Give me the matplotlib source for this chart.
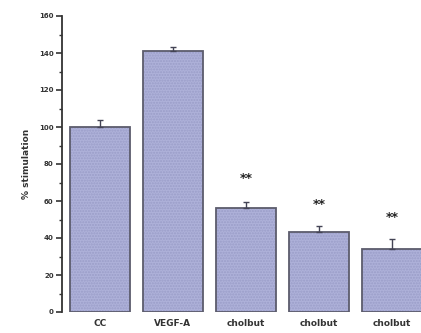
import matplotlib
matplotlib.use("Agg")
import matplotlib.pyplot as plt
import numpy as np

categories = ["CC", "VEGF-A", "cholbut", "cholbut", "cholbut"]
values = [100, 141, 56, 43.5, 34]
errors = [4, 2.5, 3.5, 3, 5.5]
marks = ["", "", "**", "**", "**"]
mark_y = [None, None, 72, 58, 51]

fig = plt.figure(figsize=(4.21, 3.33), dpi=100)
ax = fig.add_axes([62 / 421, 21 / 333, 1 - 62 / 421, (312 - 16) / 333])

x = np.arange(len(categories))
width = 0.82

ax.bar(x, values, width=width, color="#aeb1d9", edgecolor="none", zorder=2)
ax.bar(x, values, width=width, color="none", edgecolor="#9a9dc8",
       hatch="......", linewidth=0, zorder=3)
ax.bar(x, values, width=width, color="none", edgecolor="#5c5c6c",
       linewidth=1.3, zorder=4)
ax.errorbar(x, values, yerr=[np.zeros(len(errors)), errors], fmt="none",
            ecolor="#444455", elinewidth=1.0, capsize=2, capthick=1.0, zorder=5)

for xi, m, my in zip(x, marks, mark_y):
    if m:
        ax.text(xi, my, m, ha="center", va="center", fontsize=9,
                fontweight="heavy", color="#222222")

ax.set_xlim(-0.52, 4.40)
ax.set_ylim(0, 160)
ax.set_yticks(np.arange(0, 161, 20))
ax.set_yticks(np.arange(10, 160, 20), minor=True)
ax.set_xticks(x)
ax.set_xticklabels(categories, fontsize=6.5, fontweight="bold", color="#333333")
ax.tick_params(axis="x", length=0, pad=5)
ax.tick_params(axis="y", which="major", length=4, width=1.2, labelsize=5,
               colors="#333333", pad=2)
ax.tick_params(axis="y", which="minor", length=2.5, width=1.0, colors="#333333")
for lbl in ax.get_yticklabels():
    lbl.set_fontweight("bold")

for s in ["top", "right", "bottom"]:
    ax.spines[s].set_visible(False)
ax.spines["left"].set_linewidth(1.3)
ax.spines["left"].set_color("#333333")

ax.set_ylabel("% stimulation", fontsize=6.5, fontweight="bold", color="#333333",
              labelpad=6)

fig.savefig("out.png", dpi=100)
